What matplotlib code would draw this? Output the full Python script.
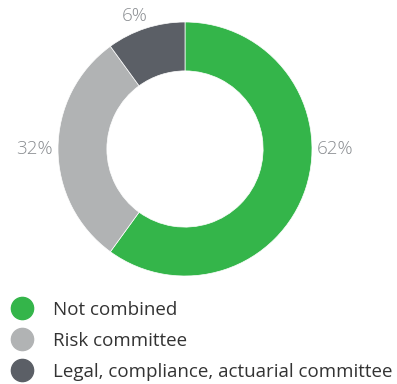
import matplotlib
matplotlib.use("Agg")
import matplotlib.pyplot as plt
from matplotlib.lines import Line2D

categories = ["Not combined", "Risk committee", "Legal, compliance, actuarial committee"]
# slice sizes as drawn in the picture; labels as printed
values = [60, 30, 10]
pct_labels = ["62%", "32%", "6%"]
colors = ["#34b54a", "#b1b3b4", "#5b5f66"]

plt.rcParams['font.family'] = ['Open Sans', 'DejaVu Sans']

fig = plt.figure(figsize=(3.97, 3.84), dpi=100)
ax = fig.add_axes([58/397, (384-149-127)/384, 254/397, 254/384])
ax.pie(values, colors=colors, startangle=90, counterclock=False, radius=1,
       wedgeprops=dict(width=0.385, edgecolor='white', linewidth=0.5))
ax.set_xlim(-1, 1)
ax.set_ylim(-1, 1)
ax.set_aspect('equal')
ax.axis('off')

label_pos = [(1.18, 0.0), (-1.185, 0.0), (-0.4, 1.045)]
for (x, y), t in zip(label_pos, pct_labels):
    ax.text(x, y, t, ha='center', va='center', fontsize=13.5, color='#8a8d91',
            fontweight='light', clip_on=False)

handles = [Line2D([], [], marker='o', linestyle='none', markersize=16,
                  markerfacecolor=c, markeredgecolor=c) for c in colors]
fig.legend(handles, categories, loc='upper left', bbox_to_anchor=(0.013, 1 - 297/384),
           frameon=False, fontsize=13.5, labelcolor='#333333', handletextpad=0.95,
           labelspacing=0.70, borderaxespad=0, handlelength=1.4, borderpad=0.2)

fig.savefig("out.png", dpi=100)
